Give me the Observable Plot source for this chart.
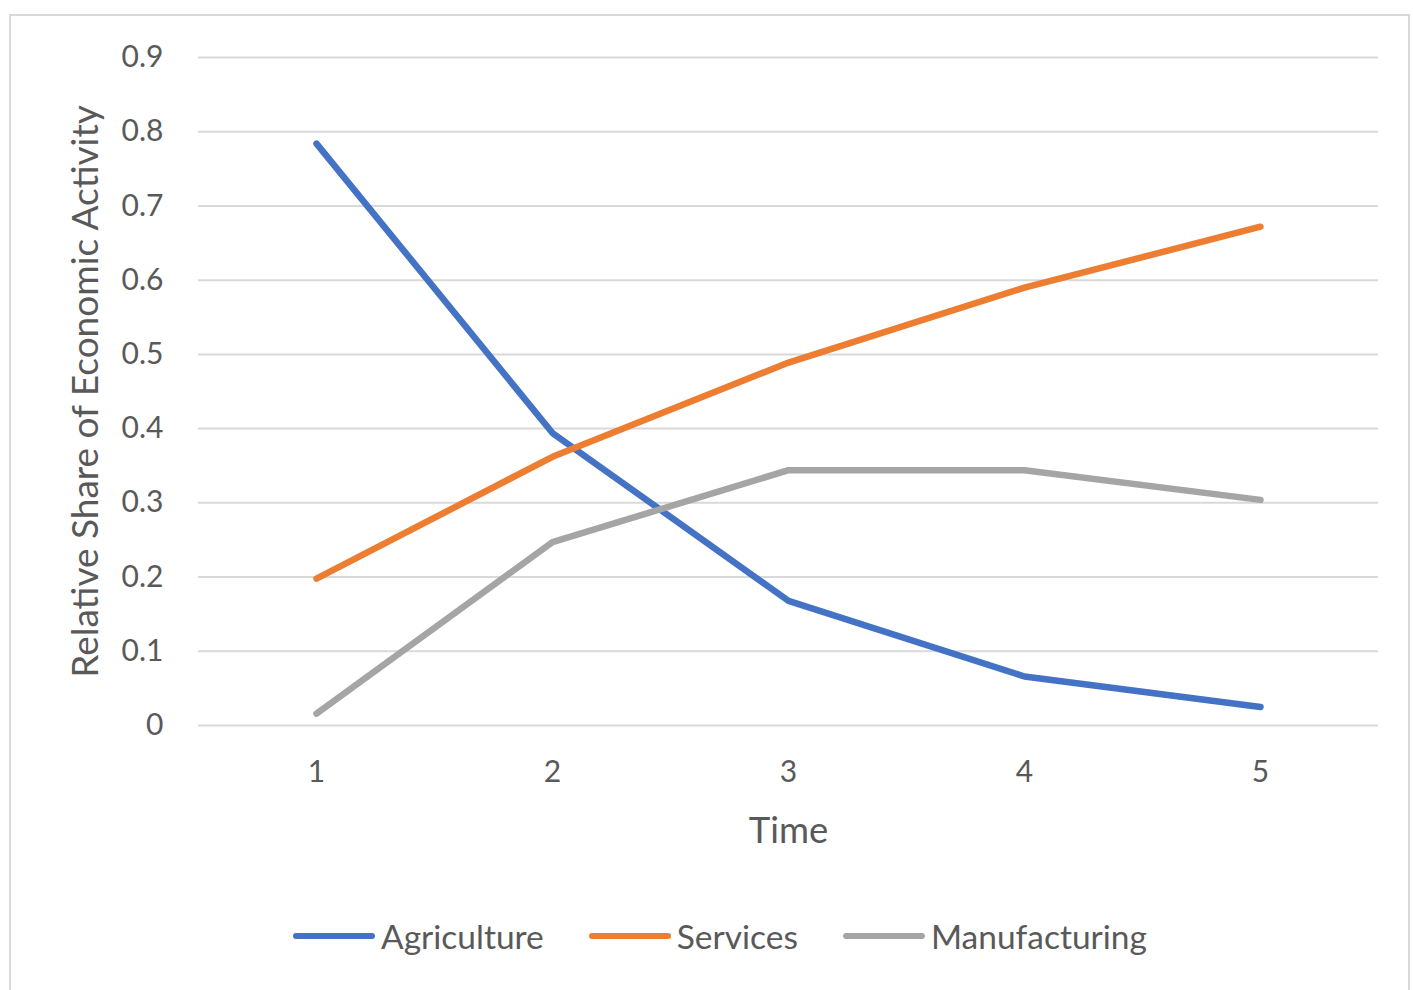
<!DOCTYPE html>
<html>
<head>
<meta charset="utf-8">
<script src="https://cdn.jsdelivr.net/npm/d3@7"></script>
<script src="https://cdn.jsdelivr.net/npm/@observablehq/plot@0.6"></script>
<style>
  html, body { margin: 0; padding: 0; background: #fff; }
  #wrap { position: relative; width: 1413px; height: 990px; overflow: hidden; font-family: Lato, "Open Sans", sans-serif; color: #595959; }
  #border { position: absolute; left: 9px; top: 14px; width: 1401px; height: 1100px; border: 2px solid #D9D9D9; box-sizing: border-box; }
  #chart { position: absolute; left: 0; top: 0; }
  #legend { position: absolute; left: 293px; top: 914px; height: 44px; display: flex; align-items: center; font-size: 33.5px; white-space: nowrap; }
  .item { display: flex; align-items: center; margin-right: 45px; }
  .swatch { width: 82px; height: 6px; border-radius: 3px; margin-right: 6px; }
</style>
</head>
<body>
<div id="wrap">
  <div id="border"></div>
  <div id="chart"></div>
  <div id="legend"></div>
</div>
<script>
// ---- data ----
const times = [1, 2, 3, 4, 5];
const agriculture = [0.784, 0.394, 0.168, 0.066, 0.025];
const services = [0.198, 0.362, 0.489, 0.590, 0.672];
const manufacturing = [0.016, 0.247, 0.344, 0.344, 0.304];
const seriesNames = ["Agriculture", "Services", "Manufacturing"];
const seriesColors = ["#4472C4", "#ED7D31", "#A5A5A5"];
const yTicks = [0, 0.1, 0.2, 0.3, 0.4, 0.5, 0.6, 0.7, 0.8, 0.9];
const xTitle = "Time";
const yTitle = "Relative Share of Economic Activity";

const seriesValues = [agriculture, services, manufacturing];
const data = [];
seriesNames.forEach((name, i) => {
  times.forEach((t, j) => data.push({ series: name, time: t, value: seriesValues[i][j] }));
});

const chart = Plot.plot({
  width: 1413,
  height: 870,
  marginLeft: 198,
  marginRight: 35,
  marginTop: 57,
  marginBottom: 145,
  style: { color: "#595959", background: "transparent", fontFamily: "Lato, 'Open Sans', sans-serif" },
  x: { type: "point", domain: times, padding: 0.5 },
  y: { domain: [0, 0.9] },
  color: { domain: seriesNames, range: seriesColors },
  marks: [
    Plot.gridY(yTicks, { stroke: "#D9D9D9", strokeOpacity: 1, strokeWidth: 2 }),
    Plot.axisY(yTicks, { tickSize: 0, tickPadding: 35, fontSize: 30, tickFormat: d => String(d), label: null }),
    Plot.axisX(times, { tickSize: 0, tickPadding: 35, fontSize: 30, label: null }),
    Plot.text([yTitle], { text: d => d, frameAnchor: "left", textAnchor: "middle", lineAnchor: "middle", rotate: -90, dx: -112, fontSize: 37, fill: "#595959" }),
    Plot.text([xTitle], { text: d => d, frameAnchor: "bottom", textAnchor: "middle", lineAnchor: "middle", dy: 106, fontSize: 36.5, fill: "#595959" }),
    Plot.lineY(data, { x: "time", y: "value", stroke: "series", strokeWidth: 6.5, strokeLinecap: "round", strokeLinejoin: "round" })
  ]
});
document.getElementById("chart").appendChild(chart);

const legend = document.getElementById("legend");
seriesNames.forEach((name, i) => {
  const item = document.createElement("div");
  item.className = "item";
  const sw = document.createElement("div");
  sw.className = "swatch";
  sw.style.background = seriesColors[i];
  const label = document.createElement("span");
  label.textContent = name;
  item.appendChild(sw);
  item.appendChild(label);
  legend.appendChild(item);
});
</script>
</body>
</html>
